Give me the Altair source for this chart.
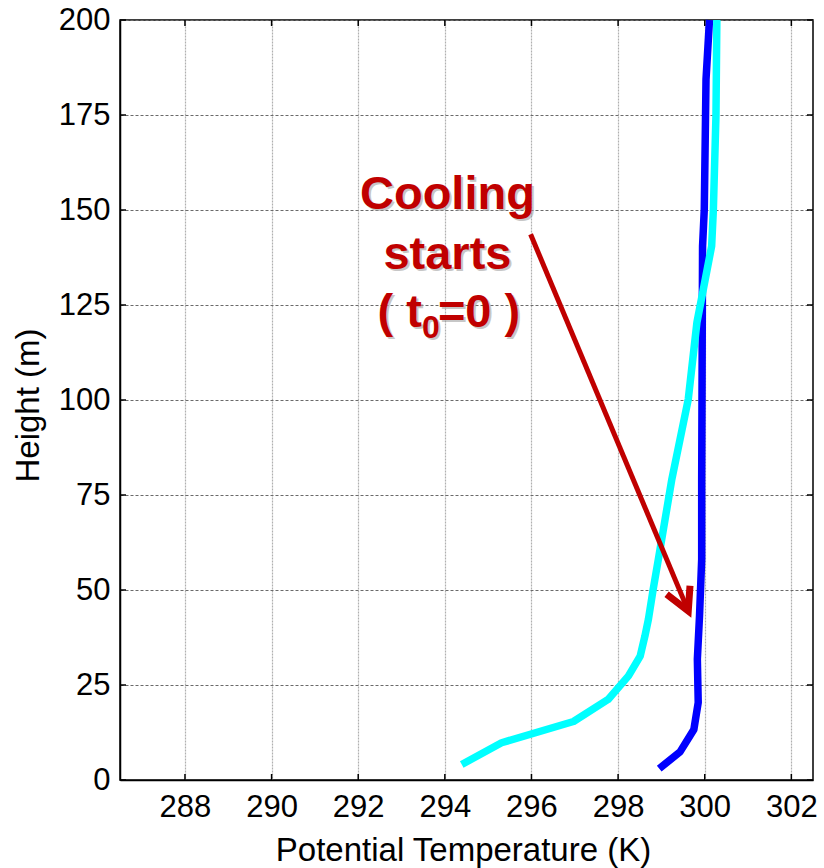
import altair as alt
import pandas as pd

# ---- data ----
cyan_theta = [294.39, 295.31, 296.97, 297.77, 298.24, 298.51, 298.62, 298.70, 298.81, 298.93,
              299.24, 299.62, 299.82, 300.16, 300.20, 300.26, 300.28]
cyan_z = [4.1, 9.8, 15.4, 21.2, 27.4, 32.6, 37.9, 42.3, 50.2, 58.1,
          79.1, 100.2, 120.4, 140.5, 150.2, 175.0, 200.0]

blue_theta = [298.95, 299.43, 299.75, 299.85, 299.83, 299.88, 299.93, 299.93, 299.95, 299.99, 300.03, 300.11]
blue_z = [3.0, 7.4, 13.3, 20.4, 31.8, 43.2, 58.1, 79.0, 140.5, 150.2, 184.4, 200.0]

x_ticks = [288, 290, 292, 294, 296, 298, 300, 302]
y_ticks = [0, 25, 50, 75, 100, 125, 150, 175, 200]

# annotation (data coordinates)
arrow_shaft_theta = [295.98, 299.62]
arrow_shaft_z = [143.6, 44.5]
arrow_head_theta = [299.12, 299.62, 299.66]
arrow_head_z = [48.9, 44.5, 51.1]

label_lines = ["Cooling", "starts"]
label_theta = [294.06, 294.06]
label_z = [150.2, 134.4]
line3_parts = ["( t", "0", "=0 )"]
line3_theta = [293.47, 293.47, 293.84]
line3_z = [119.1, 116.2, 119.1]

X_DOMAIN = [286.5, 302.5]
Y_DOMAIN = [0, 200]
W, H = 693, 760
RED = "#C00000"
FONT = "Liberation Sans"

cyan_df = pd.DataFrame({"theta": cyan_theta, "z": cyan_z, "i": range(len(cyan_z))})
blue_df = pd.DataFrame({"theta": blue_theta, "z": blue_z, "i": range(len(blue_z))})
shaft_df = pd.DataFrame({"theta": arrow_shaft_theta, "z": arrow_shaft_z, "i": [0, 1]})
head_df = pd.DataFrame({"theta": arrow_head_theta, "z": arrow_head_z, "i": [0, 1, 2]})
lab_df = pd.DataFrame({"theta": label_theta, "z": label_z, "t": label_lines})
xt_df = pd.DataFrame({"theta": x_ticks})
yt_df = pd.DataFrame({"z": y_ticks})

xscale = alt.Scale(domain=X_DOMAIN, nice=False, zero=False)
yscale = alt.Scale(domain=Y_DOMAIN, nice=False, zero=False)

xaxis = alt.Axis(values=x_ticks, title="Potential Temperature (K)", grid=True,
                 gridColor="#b0b0b0", gridDash=[2, 1], gridWidth=1.2,
                 labelPadding=12, titleX=343, titleY=70, titleBaseline="middle",
                 titleAlign="center")
yaxis = alt.Axis(values=y_ticks, title="Height (m)", grid=True,
                 gridColor="#6a6a6a", gridDash=[3, 2], gridWidth=1,
                 labelPadding=10, titleX=-92, titleY=385, titleBaseline="middle",
                 titleAlign="center")

X = alt.X("theta:Q", scale=xscale, axis=xaxis)
Y = alt.Y("z:Q", scale=yscale, axis=yaxis)

blue_line = alt.Chart(blue_df).mark_line(color="#0000FF", strokeWidth=7.5, strokeJoin="round").encode(
    x=X, y=Y, order="i:Q")
cyan_line = alt.Chart(cyan_df).mark_line(color="#00FFFF", strokeWidth=7.5, strokeJoin="round").encode(
    x=X, y=Y, order="i:Q")

shaft = alt.Chart(shaft_df).mark_line(color=RED, strokeWidth=5).encode(x=X, y=Y, order="i:Q")
head = alt.Chart(head_df).mark_line(color=RED, strokeWidth=7, strokeJoin="miter", strokeCap="butt").encode(
    x=X, y=Y, order="i:Q")

def txt(df, size, align, dx=0, dy=0, color=RED, opacity=1.0):
    return alt.Chart(df).mark_text(font=FONT, fontWeight="bold", fontSize=size, align=align,
                                   baseline="alphabetic", color=color, dx=dx, dy=dy,
                                   opacity=opacity).encode(x=X, y=Y, text="t:N")

l3 = [pd.DataFrame({"theta": [line3_theta[k]], "z": [line3_z[k]], "t": [line3_parts[k]]}) for k in range(3)]

texts = []
for sh in (True, False):
    c = "#9a9a9a" if sh else RED
    op = 0.55 if sh else 1.0
    d = 2 if sh else 0
    texts.append(txt(lab_df, 47, "center", d, d, c, op))
    texts.append(txt(l3[0], 47, "right", d, d, c, op))
    texts.append(txt(l3[1], 32, "left", d, d, c, op))
    texts.append(txt(l3[2], 47, "left", d, d, c, op))

# inward tick marks (MATLAB style box)
tick_b = alt.Chart(xt_df).mark_rule(color="black", strokeWidth=1.5).encode(
    x=X, y=alt.value(H), y2=alt.value(H - 6))
tick_t = alt.Chart(xt_df).mark_rule(color="black", strokeWidth=1.5).encode(
    x=X, y=alt.value(0), y2=alt.value(6))
tick_l = alt.Chart(yt_df).mark_rule(color="black", strokeWidth=1.5).encode(
    y=Y, x=alt.value(0), x2=alt.value(6))
tick_r = alt.Chart(yt_df).mark_rule(color="black", strokeWidth=1.5).encode(
    y=Y, x=alt.value(W), x2=alt.value(W - 6))

chart = alt.layer(blue_line, cyan_line, shaft, head, *texts,
                  tick_b, tick_t, tick_l, tick_r).properties(
    width=W, height=H,
    autosize=alt.AutoSizeParams(type="none"),
    padding={"left": 120, "top": 20, "right": 11, "bottom": 88},
).configure_view(stroke="black", strokeWidth=1.5).configure_axis(
    labelFont=FONT, labelFontSize=31, labelColor="black",
    titleFont=FONT, titleFontSize=33, titleFontWeight="normal", titleColor="black",
    tickSize=0, domainColor="black", domainWidth=1.5,
)

chart.save("out.html", embed_options={"renderer": "svg", "actions": False})
